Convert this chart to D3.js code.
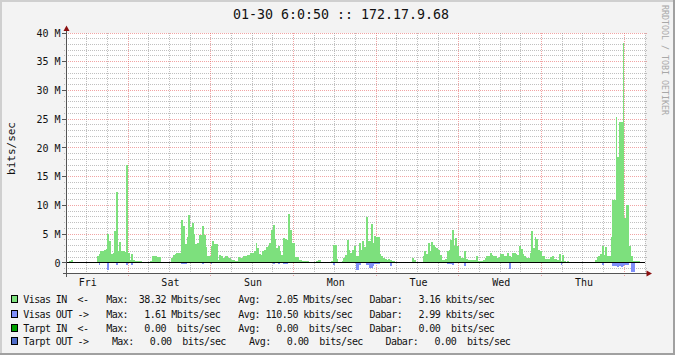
<!DOCTYPE html>
<html><head><meta charset="utf-8">
<script src="https://cdn.jsdelivr.net/npm/d3@7"></script>
<style>
html,body{margin:0;padding:0;background:#f3f3f3;}
svg{display:block;}
text{font-family:"DejaVu Sans Mono",monospace;fill:#111;}
</style></head>
<body>
<svg id="chart" width="675" height="355"></svg>
<script>
// ---- data (Mbit/s, 30‑minute samples, Fri 06:00 -> next Fri 06:00) ----
const inValues = [
0.1,0.2,0.3,0.6,0,0,0,0,0,0,0,0,
0,0,0,0,0,0,1.3,1.5,2.0,2.1,2.3,2.4,
5.0,3.9,1.5,1.7,5.5,12.3,2.0,3.6,2.0,2.0,1.9,17.0,
1.8,0.6,1.6,0.5,0.4,0.4,0.4,0.4,0,0,0,0,
0,0.4,1.2,1.3,1.2,1.0,1.0,0,0,0,0,0,
0,0.9,1.4,1.5,1.8,1.8,1.7,7.5,6.5,3.3,4.6,8.4,
6.3,7.0,5.0,3.3,3.4,4.9,4.8,6.5,4.8,2.7,1.2,1.2,
2.9,3.8,3.3,3.3,0.5,1.4,1.2,0.9,1.3,1.3,0.9,0.9,
0.5,0.5,0.3,0.3,1.0,0.9,0.9,1.2,1.3,1.4,1.4,1.7,
1.8,2.0,3.5,2.6,1.6,1.4,2.0,2.3,2.8,3.0,3.5,5.8,
6.6,4.2,2.6,3.0,2.0,1.4,4.3,4.2,4.0,8.6,5.8,3.5,
3.5,1.0,1.0,0.6,0.6,0.3,0.3,0.3,0.3,0.2,0,0,
0,0.3,0.6,0.6,0,0,0,0,0,0,0.3,3.1,
3.1,0.7,0.2,0.2,0.3,0.8,1.4,4.0,2.3,1.8,2.3,2.9,
1.3,1.2,3.4,2.2,3.9,2.8,8.0,3.9,3.8,6.7,3.5,4.7,
4.6,4.6,1.5,1.2,0.8,0.7,0.5,0.7,0.5,0.4,0.3,0.2,
0,0,0,0,0,0,0.2,0.2,0,0.9,0.5,0,
0,0,0,1.2,2.0,1.5,3.5,2.1,3.6,3.2,2.8,2.6,
2.2,1.4,0.5,0.5,0.7,2.0,2.2,4.0,5.7,3.0,4.3,3.0,
1.2,0.9,0.9,2.0,0.7,0.6,0.6,0.6,0.6,0.6,1.3,0.3,
0.3,0.3,0.6,0.9,1.2,1.3,1.8,1.4,1.3,1.2,0.9,1.0,
1.6,1.5,1.2,1.3,1.8,1.2,1.0,1.8,1.7,1.5,1.4,2.9,
2.4,1.6,1.3,0.8,0.9,1.7,5.5,2.6,4.5,4.2,2.3,2.0,
1.3,1.2,0.7,0.7,0.7,1.0,1.3,0.75,0.75,0.6,1.6,0.3,
1.4,0.3,0.2,0.4,0,0,0,0,0,0,0,0,
0,0,0,0,0,0,0,0.6,1.0,1.2,1.6,3.0,
1.4,2.8,1.3,1.3,4.5,10.9,10.9,25.4,18.5,24.5,24.5,38.3,
7.8,10.0,10.0,2.9,1.2,0.3,0.3,0.3,0.3,0,0,0
];
const outValues = [
0,0,0,0,0,0,0,0,0,0,0,0,
0,0,0,0,0,0,0,0.3,0,0,0,0,
1.3,0,0,0,0,0.3,0,0,0,0,0,0.3,
0,0,0.3,0,0,0,0,0,0,0,0,0,
0,0,0,0,0,0,0,0,0,0,0,0,
0,0,0,0,0,0,0,0.25,0.25,0.25,0,0,
0,0,0,0,0,0,0,0.25,0,0,0,0,
0.25,0,0,0,0,0,0,0,0,0,0,0,
0,0,0,0,0,0,0,0,0,0,0,0,
0,0,0,0,0,0,0,0,0,0,0,0,
0.25,0,0,0.25,0,0,0.25,0.25,0.25,0,0,0,
0,0,0,0,0,0,0,0,0,0,0,0,
0,0,0,0,0,0,0,0,0,0,0,0.3,
0,0,0,0,0,0,0,0,0,0,0,0,
1.2,1.3,0.3,0,0,0,0.3,0.3,0.8,0.8,0.5,0.25,
0.25,0.25,0,0,0,0,0,0,0.5,0,0,0,
0,0,0,0,0,0,0,0,0,0,0,0,
0,0,0,0,0,0,0,0,0,0,0,0,
0,0,0,0,0,0.25,0.25,0.25,0.4,0,0,0,
0,0,0,0.6,0,0,0,0,0,0,0,0,
0,0,0,0,0,0,0,0,0,0,0,0,
0,0,0,0,0,1.0,0,0,0,0,0,0,
0,0,0,0,0,0,0,0,0,0,0,0,
0,0,0,0,0,0,0,0,0,0,0,0.3,
0,0,0,0,0,0,0,0,0,0,0,0,
0,0,0,0,0,0,0,0,0,0,0,0.3,
0,0,0,0,0,0.5,0.6,0.5,0.7,0.6,0.7,0.6,
0.3,0.3,0.3,0,1.61,1.5,0,0,0,0,0,0
];
const yTicks = [0,5,10,15,20,25,30,35,40];
const yTickLabels = ["0","5 M","10 M","15 M","20 M","25 M","30 M","35 M","40 M"];
const dayLabels = ["Fri","Sat","Sun","Mon","Tue","Wed","Thu"];
const titleText = "01-30 6:0:50 :: 172.17.9.68";
const unitText = "bits/sec";
const watermark = "RRDTOOL / TOBI OETIKER";
const legendNames = ["Visas IN  <-","Visas OUT ->","Tarpt IN  <-","Tarpt OUT ->"];
const legendColors = ["#7de07d","#7f8ff8","#00a000","#4f6cc8"];
const maxVals = ["38.32","1.61","0.00","0.00"];
const maxUnits = ["M","M"," "," "];
const avgVals = ["2.05","110.50","0.00","0.00"];
const avgUnits = ["M","k"," "," "];
const dabarVals = ["3.16","2.99","0.00","0.00"];
const dabarUnits = ["k","k"," "," "];

// ---- layout ----
const W = 675, H = 355;
const X0 = 66, X1 = 645, YT = 33, YB = 273;
const tStart = new Date(2009,0,23,6,0,0), tEnd = new Date(2009,0,30,6,0,0);
const stepMs = 30*60*1000;

const svg = d3.select("#chart");
const x = d3.scaleTime().domain([tStart,tEnd]).range([X0,X1]);
const y = d3.scaleLinear().domain([-1.74,40]).range([YB,YT]);
const crisp = v => Math.floor(v)+0.5;

// background + 3D border
svg.append("rect").attr("width",W).attr("height",H).attr("fill","#f3f3f3");
svg.append("path").attr("d",`M1,${H} V1 H${W}`).attr("stroke","#cfcfcf").attr("stroke-width",2).attr("fill","none");
svg.append("path").attr("d",`M0,${H-1} H${W-1} V0`).attr("stroke","#a0a0a0").attr("stroke-width",2).attr("fill","none");

// canvas
svg.append("rect").attr("x",X0).attr("y",YT).attr("width",X1-X0).attr("height",YB-YT).attr("fill","#ffffff");

const grid = svg.append("g").attr("shape-rendering","crispEdges").attr("fill","none").attr("stroke-width",1).attr("stroke-dasharray","1,1");
// horizontal grid
d3.range(-1,41).forEach(v=>{
  if (v===0) return;
  const major = v%5===0;
  grid.append("line").attr("x1",major?X0-4:X0-2).attr("x2",major?X1+3:X1+2)
    .attr("y1",crisp(y(v))).attr("y2",crisp(y(v)))
    .attr("stroke",major?"rgba(230,90,90,0.55)":"rgba(140,140,140,0.55)");
});
// vertical grid
d3.timeHour.every(6).range(new Date(+tStart+1), new Date(+tEnd+1)).forEach(t=>{
  const major = t.getHours()===0;
  grid.append("line").attr("x1",crisp(x(t))).attr("x2",crisp(x(t)))
    .attr("y1",YT).attr("y2",major?YB+4:YB+2)
    .attr("stroke",major?"rgba(230,90,90,0.55)":"rgba(140,140,140,0.55)");
});

// data
const bins = inValues.map((v,i)=>({t0:new Date(+tStart+i*stepMs), t1:new Date(+tStart+(i+1)*stepMs), vin:v, vout:outValues[i]}));
const bars = svg.append("g").attr("shape-rendering","crispEdges");
bars.selectAll("rect.in").data(bins.filter(d=>d.vin>0)).join("rect").attr("class","in")
  .attr("x",d=>Math.round(x(d.t0))).attr("width",d=>Math.round(x(d.t1))-Math.round(x(d.t0)))
  .attr("y",d=>Math.round(y(d.vin))).attr("height",d=>Math.round(y(0))-Math.round(y(d.vin)))
  .attr("fill",legendColors[0]);
bars.selectAll("rect.out").data(bins.filter(d=>d.vout>0)).join("rect").attr("class","out")
  .attr("x",d=>Math.round(x(d.t0))).attr("width",d=>Math.round(x(d.t1))-Math.round(x(d.t0)))
  .attr("y",Math.round(y(0))).attr("height",d=>Math.max(1,Math.round(y(-d.vout))-Math.round(y(0))))
  .attr("fill",legendColors[1]);

// zero line
svg.append("line").attr("x1",X0).attr("x2",X1).attr("y1",crisp(y(0))).attr("y2",crisp(y(0)))
  .attr("stroke","#000").attr("stroke-width",1).attr("shape-rendering","crispEdges");

// axes
const ax = svg.append("g").attr("shape-rendering","crispEdges");
ax.append("line").attr("x1",X0+0.5).attr("x2",X0+0.5).attr("y1",29).attr("y2",YB+4).attr("stroke","#555");
ax.append("line").attr("x1",X0-3).attr("x2",X1+3).attr("y1",YB+0.5).attr("y2",YB+0.5).attr("stroke","#555");
yTicks.forEach(v=>{
  ax.append("line").attr("x1",X0-4).attr("x2",X0).attr("y1",crisp(y(v))).attr("y2",crisp(y(v))).attr("stroke","#555");
});
svg.append("path").attr("d",`M${X0+0.5},25.5 L${X0+3.5},31 L${X0-2.5},31 Z`).attr("fill","#8b1010");
svg.append("path").attr("d",`M${X1+7},${YB+0.5} L${X1+1.5},${YB-2.5} L${X1+1.5},${YB+3.5} Z`).attr("fill","#8b1010");

// y labels
svg.append("g").selectAll("text").data(yTicks).join("text")
  .attr("x",60.5).attr("y",d=>y(d)+3.7).attr("text-anchor","end").attr("font-size","10px")
  .text((d,i)=>yTickLabels[i]);
// x labels (noon of each day)
const noons = d3.timeDay.range(d3.timeDay.floor(tStart),tEnd).map(d=>d3.timeHour.offset(d,12));
svg.append("g").selectAll("text").data(noons).join("text")
  .attr("x",d=>x(d)+1).attr("y",285.5).attr("text-anchor","middle").attr("font-size","10px")
  .text((d,i)=>dayLabels[i]);

// title, unit, watermark
svg.append("text").attr("x",341).attr("y",18.5).attr("text-anchor","middle").attr("font-size","13.3px").text(titleText);
svg.append("text").attr("transform","translate(15,148.5) rotate(-90)").attr("text-anchor","middle").attr("font-size","11px").text(unitText);
svg.append("text").attr("transform","translate(661.5,60) rotate(90)").attr("text-anchor","middle").attr("font-size","8.3px").style("fill","#a8a8a8").text(watermark);

// legend
const rowBase = [303.3,317.5,331.7,345.3];
const colX = [[23.3,106.3,238.3,369.6],[23.3,106.3,238.3,369.6],[23.3,106.3,238.3,369.6],[23.3,111.9,248.9,385.6]];
const pad = (s,n)=>(" ".repeat(n)+s).slice(-n);
const leg = svg.append("g").attr("font-size","10px").attr("letter-spacing","-0.6px");
legendNames.forEach((name,i)=>{
  const b = rowBase[i];
  svg.append("rect").attr("x",11.5).attr("y",b-7.5).attr("width",6).attr("height",7)
    .attr("fill",legendColors[i]).attr("stroke","#000").attr("stroke-width",1).attr("shape-rendering","crispEdges");
  const items = [name,
    "Max: "+pad(maxVals[i],6)+" "+maxUnits[i]+"bits/sec",
    "Avg: "+pad(avgVals[i],6)+" "+avgUnits[i]+"bits/sec",
    "Dabar: "+pad(dabarVals[i],6)+" "+dabarUnits[i]+"bits/sec"];
  items.forEach((s,j)=>{
    leg.append("text").attr("x",colX[i][j]).attr("y",b).style("white-space","pre").text(s);
  });
});
</script>
</body></html>
